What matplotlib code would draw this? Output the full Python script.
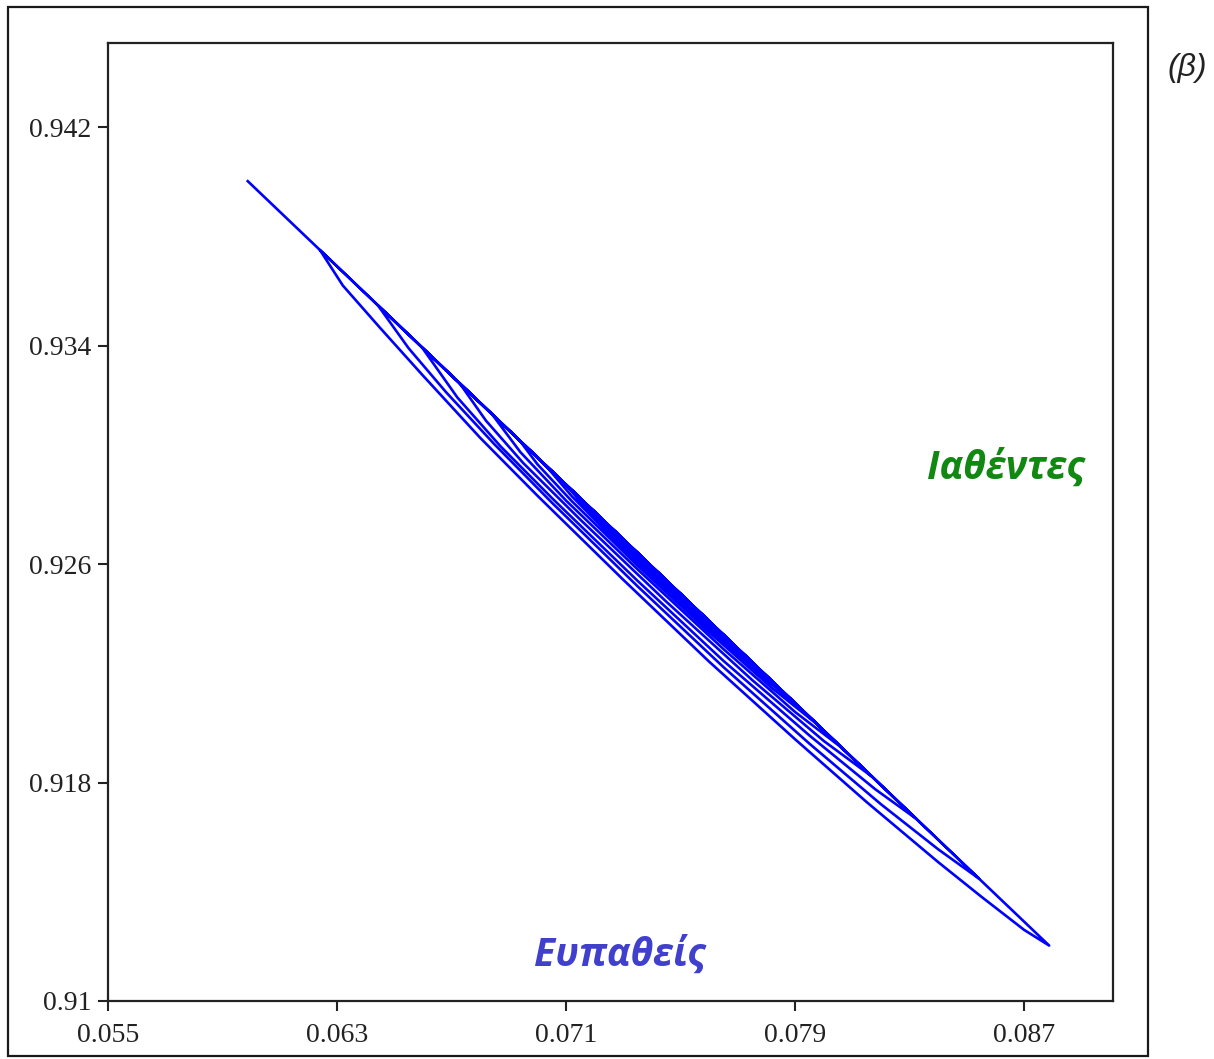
import matplotlib
matplotlib.use("Agg")
import matplotlib.pyplot as plt
from matplotlib.patches import Rectangle

# Trajectory (Susceptible fraction, Recovered fraction)
susceptible = [
    0.05988, 0.08787,
    0.0870, 0.0855, 0.0840, 0.0815, 0.0790, 0.0760, 0.0730, 0.0700, 0.0680, 0.0660, 0.0645, 0.0632,
    0.06240, 0.08542,
    0.0840, 0.0820, 0.0795, 0.0765, 0.0735, 0.0705, 0.0685, 0.0668, 0.0655,
    0.06442, 0.08323,
    0.0818, 0.0795, 0.0765, 0.0735, 0.0705, 0.0687, 0.0672,
    0.06596, 0.08169,
    0.0800, 0.0775, 0.0745, 0.0715, 0.0695, 0.0682,
    0.06728, 0.08064,
    0.0790, 0.0765, 0.0735, 0.0710, 0.0694,
    0.06840, 0.07977,
    0.0782, 0.0760, 0.0735, 0.0712, 0.0700,
    0.06937, 0.07907,
    0.0776, 0.0755, 0.0730, 0.0712,
    0.07025, 0.07848,
    0.0770, 0.0750, 0.0728, 0.0716,
    0.07098, 0.07799,
    0.0765, 0.0745, 0.0727,
    0.07161, 0.07757,
    0.0762, 0.0742, 0.0728,
    0.07217, 0.0755,
]
recovered = [
    0.94002, 0.91203,
    0.91260, 0.91382, 0.91508, 0.91728, 0.91958, 0.92242, 0.92542, 0.92850, 0.93062, 0.93290, 0.93465, 0.93620,
    0.93750, 0.91448,
    0.91555, 0.91720, 0.91942, 0.92222, 0.92518, 0.92825, 0.93038, 0.93230, 0.93390,
    0.93548, 0.91667,
    0.91775, 0.91972, 0.92245, 0.92538, 0.92842, 0.93032, 0.93210,
    0.93394, 0.91821,
    0.91952, 0.92175, 0.92462, 0.92762, 0.92970, 0.93125,
    0.93262, 0.91926,
    0.92058, 0.92288, 0.92580, 0.92832, 0.93010,
    0.93150, 0.92013,
    0.92145, 0.92350, 0.92594, 0.92830, 0.92965,
    0.93053, 0.92083,
    0.92210, 0.92408, 0.92656, 0.92848,
    0.92965, 0.92142,
    0.92274, 0.92465, 0.92686, 0.92816,
    0.92892, 0.92191,
    0.92328, 0.92522, 0.92705,
    0.92829, 0.92233,
    0.92361, 0.92557, 0.92700,
    0.92773, 0.92437,
]

x_ticks = [0.055, 0.063, 0.071, 0.079, 0.087]
x_tick_labels = ["0.055", "0.063", "0.071", "0.079", "0.087"]
y_ticks = [0.91, 0.918, 0.926, 0.934, 0.942]
y_tick_labels = ["0.91", "0.918", "0.926", "0.934", "0.942"]

label_recovered = "Ιαθέντες"
label_susceptible = "Ευπαθείς"
panel_label = "(β)"

fig = plt.figure(figsize=(12.14, 10.59), dpi=100)
fig.patch.set_facecolor("white")

# outer frame
fig.patches.append(Rectangle((0.0066, 0.0025), 0.939, 0.991, transform=fig.transFigure,
                             fill=False, edgecolor="#1a1a1a", linewidth=1.6, zorder=0))

ax = fig.add_axes([0.0890, 0.0548, 0.8278, 0.9046])
ax.plot(susceptible, recovered, color="#0000ff", linewidth=1.9, solid_joinstyle="round")

ax.set_xlim(0.055, 0.0901)
ax.set_ylim(0.91, 0.94508)
ax.set_xticks(x_ticks)
ax.set_xticklabels(x_tick_labels)
ax.set_yticks(y_ticks)
ax.set_yticklabels(y_tick_labels)
for lab in ax.get_xticklabels() + ax.get_yticklabels():
    lab.set_family("Liberation Serif")
    lab.set_fontsize(20)
    lab.set_color("#222222")
ax.tick_params(direction="out", length=7, width=1.5, color="#222222",
               top=False, right=False)
ax.tick_params(axis="y", pad=5)
ax.tick_params(axis="x", pad=9)
for s in ax.spines.values():
    s.set_linewidth(1.6)
    s.set_color("#222222")

ax.text(0.08637, 0.92951, label_recovered, color="#118811", fontsize=28,
        fontweight="bold", fontstyle="italic", family="Open Sans",
        ha="center", va="center")
ax.text(0.07286, 0.91168, label_susceptible, color="#4040cc", fontsize=28,
        fontweight="bold", fontstyle="italic", family="Open Sans",
        ha="center", va="center")

fig.text(0.978, 0.936, panel_label, fontsize=23, fontstyle="italic",
         family="Liberation Sans", color="#222222", ha="center", va="center")

fig.savefig("out.png", dpi=100, facecolor="white")
